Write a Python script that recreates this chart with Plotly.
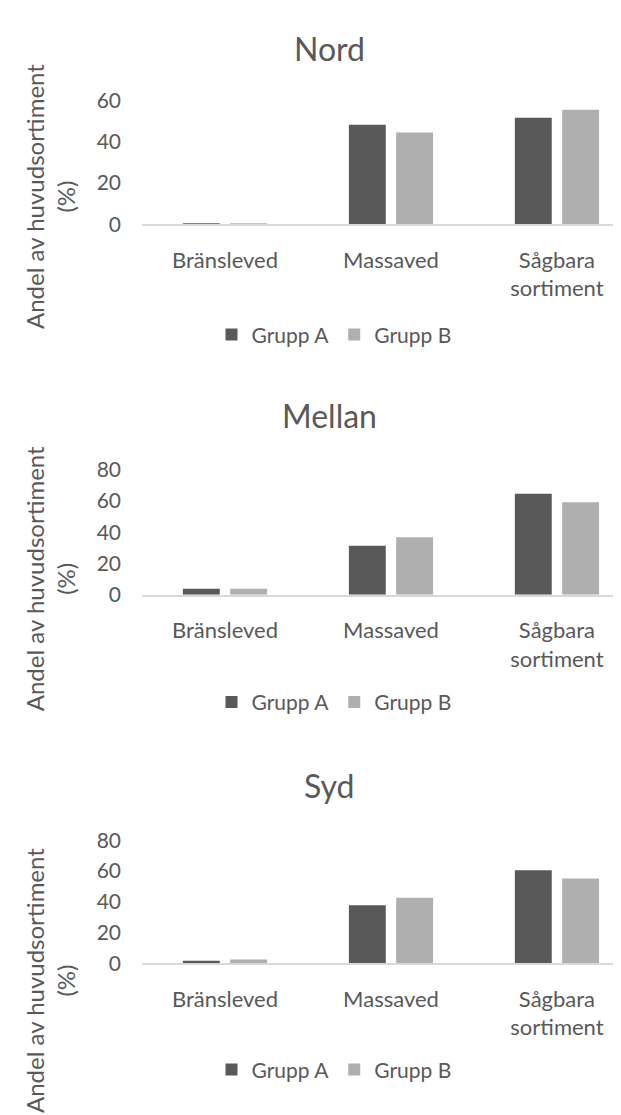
import plotly.graph_objects as go
from plotly.subplots import make_subplots

# Data (percent of main assortment)
CATEGORIES = ["Bränsleved", "Massaved", "Sågbara<br>sortiment"]
REGIONS = ["Nord", "Mellan", "Syd"]
SERIES = ["Grupp A", "Grupp B"]

NORD_A = [0.3, 48.2, 51.5]
NORD_B = [0.2, 44.4, 55.4]
MELLAN_A = [3.9, 31.4, 64.6]
MELLAN_B = [3.9, 36.8, 59.2]
SYD_A = [1.8, 37.8, 60.5]
SYD_B = [2.6, 42.6, 55.1]

Y_MAX = [60, 80, 80]
Y_TITLE = "Andel av huvudsortiment<br>(%)"

COLOR_A = "#595959"
COLOR_B = "#afafaf"
TEXT = "#595959"
AXIS = "#d9d9d9"
FONT = "Lato, 'Open Sans', sans-serif"

W, H = 621, 1115


def py(y):
    # pixel row -> paper fraction
    return 1 - y / H


# pixel layout per panel: plot top, plot bottom, title y, legend y, y-title y
PANELS = [
    (80, 207, 27, 320, 179),
    (458, 586, 403, 696, 570),
    (837, 963, 781, 1072, 981),
]

values = [(NORD_A, NORD_B), (MELLAN_A, MELLAN_B), (SYD_A, SYD_B)]

fig = make_subplots(rows=3, cols=1)

for i, (region, (a, b)) in enumerate(zip(REGIONS, values)):
    row = i + 1
    leg = "legend" if i == 0 else f"legend{i + 1}"
    for name, vals, col in [(SERIES[0], a, COLOR_A), (SERIES[1], b, COLOR_B)]:
        fig.add_trace(
            go.Bar(x=CATEGORIES, y=vals, name=name, marker=dict(color=col, line=dict(width=0)),
                   legend=leg, hovertemplate="%{x}: %{y:.1f}%<extra>" + name + "</extra>"),
            row=row, col=1,
        )

    top, bottom, ty, ly, yty = PANELS[i]
    fig.update_xaxes(
        domain=[134 / W, 1.0], range=[-0.5, 2.434],
        showline=True, linecolor=AXIS, linewidth=1.5, showgrid=False, zeroline=False,
        ticks="", ticklabelstandoff=15, tickfont=dict(size=22, color=TEXT, family=FONT),
        row=row, col=1,
    )
    fig.update_yaxes(
        domain=[py(bottom), py(top)], range=[0, Y_MAX[i]], dtick=20,
        showline=False, showgrid=False, zeroline=False,
        ticks="", ticklabelstandoff=20, tickfont=dict(size=21, color=TEXT, family=FONT),
        row=row, col=1,
    )
    fig.add_annotation(text=region, xref="paper", yref="paper", x=321 / W, y=py(ty),
                       xanchor="center", yanchor="middle", showarrow=False,
                       font=dict(size=32, color=TEXT, family=FONT))
    fig.add_annotation(text=Y_TITLE, xref="paper", yref="paper", x=42 / W, y=py(yty),
                       xanchor="center", yanchor="middle", showarrow=False, textangle=-90,
                       font=dict(size=24, color=TEXT, family=FONT))
    fig.update_layout({
        leg: dict(orientation="h", x=326 / W, xanchor="center", y=py(ly), yanchor="middle",
                  font=dict(size=21, color=TEXT, family=FONT), itemwidth=30,
                  bgcolor="rgba(0,0,0,0)", traceorder="normal")
    })

fig.update_layout(
    width=W, height=H,
    margin=dict(l=0, r=0, t=0, b=0),
    paper_bgcolor="white", plot_bgcolor="white",
    barmode="group", bargap=0.43, bargroupgap=0.22,
    font=dict(family=FONT, color=TEXT),
    showlegend=True,
)

fig.write_html("out.html")
